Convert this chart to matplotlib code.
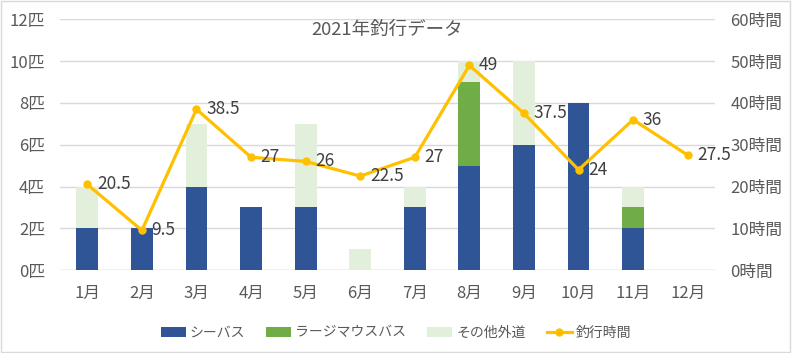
import matplotlib
matplotlib.use("Agg")
import matplotlib.pyplot as plt
import numpy as np

plt.rcParams['font.family'] = ['Noto Sans CJK JP', 'DejaVu Sans']

# data
months = ["1月", "2月", "3月", "4月", "5月", "6月", "7月", "8月", "9月", "10月", "11月", "12月"]
seabass = [2, 2, 4, 3, 3, 0, 3, 5, 6, 8, 2, 0]
largemouth = [0, 0, 0, 0, 0, 0, 0, 4, 0, 0, 1, 0]
others = [2, 0, 3, 0, 4, 1, 1, 1, 4, 0, 1, 0]
hours = [20.5, 9.5, 38.5, 27, 26, 22.5, 27, 49, 37.5, 24, 36, 27.5]

text_col = "#595959"
grid_col = "#D9D9D9"

fig = plt.figure(figsize=(7.92, 3.53), dpi=100)
ax = fig.add_axes([0.0758, 0.235, 0.827, 0.71])
ax2 = ax.twinx()

x = np.arange(len(months))
w = 0.4
b1 = ax.bar(x, seabass, w, color="#2F5597", label="シーバス", zorder=2)
b2 = ax.bar(x, largemouth, w, bottom=seabass, color="#70AD47", label="ラージマウスバス", zorder=2)
bottom2 = np.array(seabass) + np.array(largemouth)
b3 = ax.bar(x, others, w, bottom=bottom2, color="#E2EFDA", label="その他外道", zorder=2)

ln, = ax2.plot(x, hours, color="#FFC000", lw=2.3, marker="o", ms=5, label="釣行時間", zorder=3)
for xi, h in zip(x, hours):
    ax2.annotate(f"{h:g}", (xi, h), xytext=(7, 0), textcoords="offset points",
                 ha="left", va="center", fontsize=12.5, color="#404040")

ax.set_xlim(-0.5, 11.5)
ax.set_ylim(0, 12)
ax2.set_ylim(0, 60)
ax.set_yticks(range(0, 13, 2))
ax.set_yticklabels([f"{v}匹" for v in range(0, 13, 2)])
ax2.set_yticks(range(0, 61, 10))
ax2.set_yticklabels([f"{v}時間" for v in range(0, 61, 10)])
ax.set_xticks(x)
ax.set_xticklabels(months)

for a in (ax, ax2):
    for s in a.spines.values():
        s.set_visible(False)
    a.tick_params(length=0, colors=text_col, labelsize=12)
ax.tick_params(axis="x", pad=11)
ax.tick_params(axis="y", pad=11)
ax2.tick_params(axis="y", pad=11)
ax.yaxis.grid(True, color=grid_col, lw=1, zorder=0)
ax.set_axisbelow(True)
ax.axhline(0, color=grid_col, lw=1, zorder=1)

ax.set_title("2021年釣行データ", color=text_col, fontsize=13.3, y=0.905)

fig.legend(handles=[b1, b2, b3, ln], loc="center", bbox_to_anchor=(0.5, 0.058), ncol=4,
           frameon=False, fontsize=10, labelcolor=text_col, handlelength=1.8,
           handleheight=0.7, columnspacing=1.5, handletextpad=0.3)

fig.patches.append(plt.Rectangle((0.001, 0.002), 0.997, 0.995, transform=fig.transFigure,
                                 fill=False, edgecolor="#D9D9D9", lw=1))

fig.savefig("out.png", dpi=100)
